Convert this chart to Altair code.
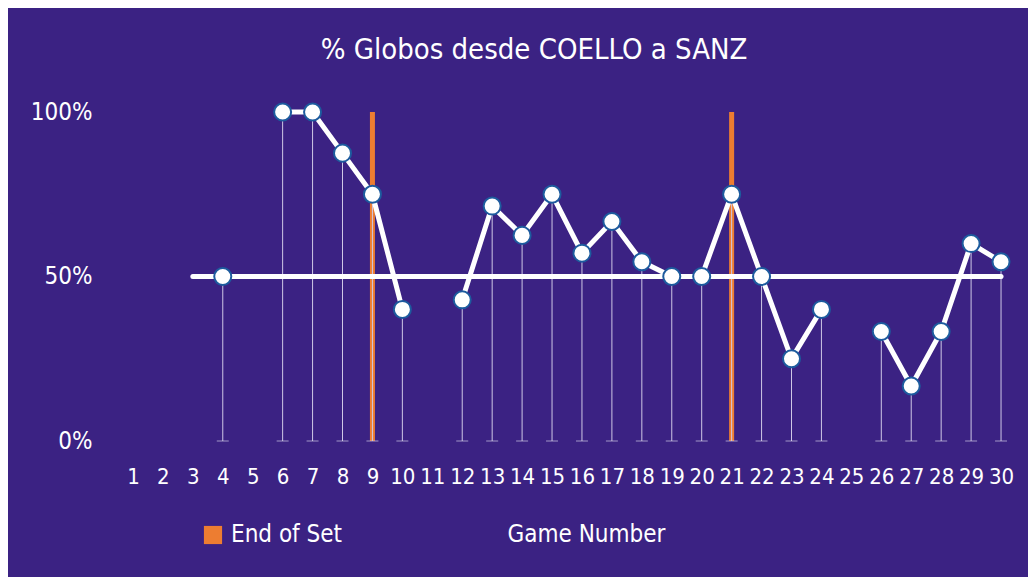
import altair as alt
import pandas as pd

games = list(range(1, 31))
pct = [None, None, None, 50, None, 100, 100, 87.5, 75, 40, None, 42.9, 71.4, 62.5, 75,
       57.1, 66.7, 54.5, 50, 50, 75, 50, 25, 40, None, 33.3, 16.7, 33.3, 60, 54.5]
set_end_games = [9, 21]
set_end_label = "End of Set"
ref_start, ref_end, ref_value = 3, 30, 50
y_ticks = [0, 50, 100]
title_text = "% Globos desde COELLO a SANZ"
x_title = "Game Number"

BG = "#3b2283"
ORANGE = "#ed7d31"
DROP = "#cfc8e6"
PT_STROKE = "#1d5b9e"
FONT = "DejaVu Sans Condensed, Roboto, sans-serif"

df = pd.DataFrame({"game": games, "pct": pct})
df_pts = df.dropna().copy()
df_pts["zero"] = 0
df_set = pd.DataFrame({"game": set_end_games, "lo": [0] * len(set_end_games),
                       "hi": [100] * len(set_end_games),
                       "label": [set_end_label] * len(set_end_games)})
df_ref = pd.DataFrame({"g1": [ref_start], "g2": [ref_end], "v": [ref_value]})

x_scale = alt.Scale(type="point", domain=games, padding=0.5)
y_scale = alt.Scale(domain=[0, 100], nice=False, zero=True)

x_axis = alt.Axis(title=x_title, labelAngle=0, labelFontSize=22, labelColor="white",
                  labelFont=FONT, ticks=False, tickSize=0, domain=False, grid=False,
                  labelPadding=35, labelBaseline="middle", labelOverlap=False,
                  labelFlush=False, titleFontSize=24, titleColor="white", titleFont=FONT,
                  titleFontWeight="normal", titleX=468, titleY=93, titleAlign="center",
                  titleBaseline="middle")
y_axis = alt.Axis(title=None, values=y_ticks, labelExpr="datum.value + '%'",
                  labelFontSize=24, labelColor="white", labelFont=FONT, ticks=False,
                  tickSize=0, domain=False, grid=False, labelPadding=26)

bars = alt.Chart(df_set).mark_bar(size=5).encode(
    x=alt.X("game:O", scale=x_scale, axis=x_axis),
    y=alt.Y("lo:Q", scale=y_scale, axis=y_axis),
    y2="hi:Q",
    color=alt.Color("label:N", scale=alt.Scale(domain=[set_end_label], range=[ORANGE]),
                    legend=alt.Legend(orient="none", legendX=83, legendY=411, title=None,
                                      symbolType="square", symbolSize=330,
                                      symbolStrokeWidth=0, labelFontSize=24,
                                      labelColor="white", labelFont=FONT, padding=0,
                                      labelOffset=6)),
)

drops = alt.Chart(df_pts).mark_rule(color=DROP, strokeWidth=1).encode(
    x=alt.X("game:O", scale=x_scale),
    y=alt.Y("zero:Q", scale=y_scale),
    y2="pct:Q",
)
caps = alt.Chart(df_pts).mark_tick(color=DROP, thickness=1, size=12).encode(
    x=alt.X("game:O", scale=x_scale),
    y=alt.Y("zero:Q", scale=y_scale),
)

ref = alt.Chart(df_ref).mark_rule(color="white", strokeWidth=5, strokeCap="round").encode(
    x=alt.X("g1:O", scale=x_scale),
    x2="g2:O",
    y=alt.Y("v:Q", scale=y_scale),
)

line = alt.Chart(df).mark_line(color="white", strokeWidth=5).encode(
    x=alt.X("game:O", scale=x_scale),
    y=alt.Y("pct:Q", scale=y_scale),
)

pts = alt.Chart(df_pts).mark_point(filled=True, fill="white", stroke=PT_STROKE,
                                   strokeWidth=2, size=290, opacity=1).encode(
    x=alt.X("game:O", scale=x_scale),
    y=alt.Y("pct:Q", scale=y_scale),
)

chart = alt.layer(bars, drops, caps, ref, line, pts).properties(
    width=898, height=329,
    padding={"left": 110, "top": 104, "right": 12, "bottom": 136},
    autosize=alt.AutoSizeParams(type="none"),
    background=BG,
    title=alt.Title(title_text, fontSize=29, color="white", font=FONT,
                    fontWeight="normal", anchor="middle", dx=-33, offset=34),
).configure_view(stroke=None)

chart.save("out.html", embed_options={"renderer": "svg", "actions": False})
